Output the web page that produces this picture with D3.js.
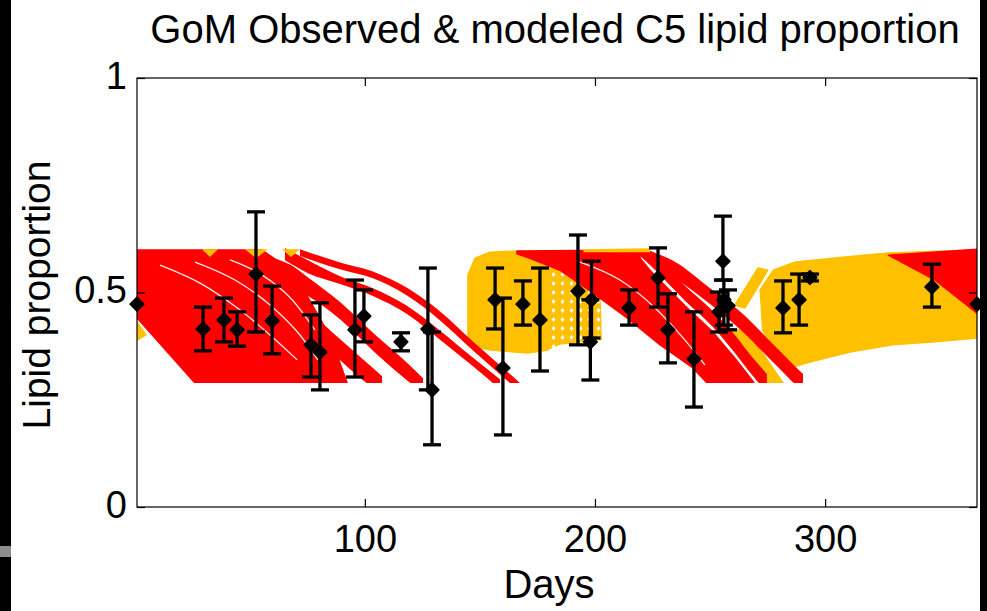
<!DOCTYPE html>
<html>
<head>
<meta charset="utf-8">
<script src="https://cdn.jsdelivr.net/npm/d3@7"></script>
<style>
  body { margin: 0; background: #fff; }
  svg text { font-family: "Liberation Sans", Arial, Helvetica, sans-serif; fill: #000; }
</style>
</head>
<body>
<div class="chartDiv"></div>
<script>
// observed C5 lipid proportion: day, mean and the two ends of each bar
var obsDay  = [1, 29.7, 38.8, 44.5, 52.7, 59.7, 76.6, 80.5, 95.7, 99.6, 115.7, 127.4, 129.2, 156.6, 160.0, 168.7, 176.1, 192.6, 198.5, 198.0, 214.8, 227.4, 231.7, 243.0, 255.6, 253.9, 256.0, 257.8, 281.7, 288.7, 293.4, 346.4, 366];
var obsMean = [0.473, 0.415, 0.436, 0.413, 0.543, 0.434, 0.378, 0.361, 0.413, 0.445, 0.385, 0.415, 0.273, 0.483, 0.324, 0.473, 0.436, 0.503, 0.483, 0.385, 0.464, 0.534, 0.413, 0.345, 0.573, 0.455, 0.483, 0.469, 0.464, 0.483, 0.535, 0.513, 0.473];
var obsLow  = [null, 0.364, 0.385, 0.375, 0.408, 0.357, 0.303, 0.273, 0.303, 0.385, 0.364, 0.273, 0.145, 0.415, 0.168, 0.424, 0.317, 0.378, 0.394, 0.296, 0.424, 0.466, 0.336, 0.233, 0.529, 0.408, 0.424, 0.413, 0.406, 0.424, 0.527, 0.466, null];
var obsHigh = [null, 0.466, 0.487, 0.455, 0.688, 0.515, 0.448, 0.476, 0.529, 0.506, 0.406, 0.557, 0.408, 0.557, 0.487, 0.527, 0.557, 0.634, 0.573, 0.483, 0.506, 0.604, 0.497, 0.455, 0.678, 0.501, 0.529, 0.506, 0.527, 0.543, 0.543, 0.566, null];

// modeled clouds, outlines as [day, lipid]
var yellowPatches = [
  [[1, 0.431], [4.9, 0.401], [1, 0.389]],
  [[144.8, 0.378], [144.8, 0.541], [147.9, 0.580], [154.4, 0.594], [167.4, 0.597], [179.6, 0.580], [179.6, 0.366], [170.9, 0.359], [154.4, 0.366]],
  [[260.8, 0.471], [270.8, 0.557], [275.1, 0.552], [265.2, 0.464]],
  [[257.8, 0.417], [266.5, 0.408], [281.7, 0.289], [273.8, 0.289]],
  [[271.8, 0.506], [277.5, 0.552], [287.1, 0.571], [308.8, 0.583], [327.5, 0.592], [366, 0.599], [366, 0.394], [347.8, 0.385], [329.3, 0.378], [310.8, 0.361], [293.4, 0.338], [284.7, 0.324], [278.2, 0.354], [272.9, 0.413]]
];
// sparse part of the yellow cloud (drawn with a dotted fill)
var yellowSparse = [[179.6, 0.580], [202.2, 0.541], [203.0, 0.389], [184.8, 0.378], [179.6, 0.366]];
var yellowTopBits = [
  [[29.2, 0.601], [36.2, 0.601], [32.7, 0.583]],
  [[47.9, 0.601], [57.9, 0.601], [52.7, 0.580]],
  [[64.0, 0.601], [71.8, 0.601], [67.9, 0.583]],
  [[195.0, 0.601], [223.9, 0.603], [223.9, 0.594], [195.0, 0.594]]
];
var redPatches = [
  [[1, 0.599], [55.3, 0.599], [65.3, 0.562], [74.0, 0.501], [81.4, 0.431], [87.5, 0.361], [92.3, 0.289], [26.2, 0.289], [1, 0.441]],
  [[166.1, 0.597], [219.6, 0.599], [219.6, 0.580], [223.9, 0.552], [239.1, 0.469], [250.8, 0.410], [260.8, 0.347], [268.2, 0.296], [269.1, 0.289], [248.7, 0.289], [242.6, 0.324], [228.3, 0.378], [213.9, 0.441], [199.1, 0.499], [184.8, 0.552], [171.7, 0.580], [166.1, 0.590]],
  [[327.5, 0.587], [366, 0.601], [366, 0.452], [347.8, 0.529]]
];
// single trajectories: [day, upper lipid, lower lipid]
var redTracks = [
  [[10.6, 0.599, 0.585], [27.9, 0.585, 0.552], [42.3, 0.566, 0.530], [57.0, 0.532, 0.490], [71.4, 0.477, 0.432], [85.7, 0.408, 0.360], [100.5, 0.338, 0.290], [107.5, 0.305, 0.265]],
  [[28.8, 0.599, 0.585], [46.2, 0.590, 0.556], [60.5, 0.580, 0.530], [67.5, 0.565, 0.515], [75.3, 0.535, 0.492], [89.6, 0.476, 0.436], [104.0, 0.404, 0.362], [118.8, 0.334, 0.293], [125.3, 0.300, 0.265]],
  [[65.3, 0.604, 0.575], [75.3, 0.575, 0.545], [89.2, 0.538, 0.520], [103.5, 0.510, 0.492], [118.3, 0.469, 0.450], [132.7, 0.411, 0.390], [147.0, 0.348, 0.328], [158.7, 0.298, 0.275]],
  [[71.8, 0.601, 0.585], [89.2, 0.570, 0.554], [103.5, 0.549, 0.533], [118.3, 0.511, 0.493], [132.7, 0.456, 0.435], [147.0, 0.386, 0.365], [161.8, 0.316, 0.295], [167.4, 0.289, 0.268]],
  [[219.6, 0.601, 0.585], [223.9, 0.597, 0.564], [239.1, 0.516, 0.481], [250.8, 0.459, 0.422], [260.8, 0.401, 0.359], [268.2, 0.350, 0.308], [274.7, 0.310, 0.268]],
  [[221.7, 0.601, 0.580], [235.6, 0.569, 0.531], [250.0, 0.510, 0.473], [264.3, 0.450, 0.408], [276.0, 0.387, 0.345], [284.7, 0.340, 0.298], [290.4, 0.310, 0.268]]
];
// thin white gaps between runs
var gapLines = [
  [[11.0, 0.564], [28.4, 0.522], [45.8, 0.459], [58.8, 0.401], [70.6, 0.343]],
  [[26.2, 0.571], [43.6, 0.529], [58.8, 0.471], [71.8, 0.401], [79.6, 0.343]],
  [[41.4, 0.576], [55.3, 0.541], [68.4, 0.483], [78.3, 0.413]],
  [[193.5, 0.571], [210.9, 0.529], [226.1, 0.464], [239.1, 0.389], [247.8, 0.331]]
];

var xTicks = [100, 200, 300];
var yTicks = [0, 0.5, 1];

var titleText = "GoM Observed & modeled C5 lipid proportion";
var xLabel = "Days";
var yLabel = "Lipid proportion";

(function(){
  var width = 987, height = 611;
  var plot = {left: 137, right: 977, top: 78, bottom: 507};
  var red = "#ff0000", yellow = "#ffc000";

  var svg = d3.select(".chartDiv").append("svg")
      .attr("width", width).attr("height", height);

  svg.append("rect").attr("width", width).attr("height", height).attr("fill", "#fff");
  // dark edges of the screen grab
  svg.append("rect").attr("x", 0).attr("y", 0).attr("width", 11).attr("height", height).attr("fill", "#000");
  svg.append("rect").attr("x", 0).attr("y", 546).attr("width", 11).attr("height", 11).attr("fill", "#8c8c8c");
  svg.append("rect").attr("x", 980).attr("y", 0).attr("width", 7).attr("height", height).attr("fill", "#000");

  var x = d3.scaleLinear().domain([1, 366]).range([plot.left, plot.right]);
  var y = d3.scaleLinear().domain([0, 1]).range([plot.bottom, plot.top]);

  var defs = svg.append("defs");
  defs.append("clipPath").attr("id", "modelClip").append("rect")
      .attr("x", plot.left).attr("y", y(0.606))
      .attr("width", plot.right - plot.left).attr("height", y(0.289) - y(0.606));
  var pat = defs.append("pattern").attr("id", "sparse")
      .attr("width", 9).attr("height", 9).attr("patternUnits", "userSpaceOnUse");
  pat.append("rect").attr("width", 9).attr("height", 9).attr("fill", yellow);
  pat.append("path").attr("d", "M4.5,2L6.5,4.5L4.5,7L2.5,4.5Z").attr("fill", "#fff");

  var poly = d3.line().x(function(d){ return x(d[0]); }).y(function(d){ return y(d[1]); })
      .curve(d3.curveLinearClosed);
  var band = d3.area().x(function(d){ return x(d[0]); })
      .y0(function(d){ return y(d[2]); }).y1(function(d){ return y(d[1]); })
      .curve(d3.curveMonotoneX);
  var gap = d3.line().x(function(d){ return x(d[0]); }).y(function(d){ return y(d[1]); })
      .curve(d3.curveMonotoneX);

  var model = svg.append("g").attr("clip-path", "url(#modelClip)");

  model.selectAll(".yel").data(yellowPatches).enter().append("path")
      .attr("class", "yel").attr("d", poly)
      .attr("fill", yellow).attr("stroke", yellow).attr("stroke-width", 1.5).attr("stroke-linejoin", "round");
  model.append("path").datum(yellowSparse).attr("d", poly).attr("fill", "url(#sparse)");

  model.selectAll(".redp").data(redPatches).enter().append("path")
      .attr("class", "redp").attr("d", poly)
      .attr("fill", red).attr("stroke", red).attr("stroke-width", 1.5).attr("stroke-linejoin", "round");
  model.selectAll(".track").data(redTracks).enter().append("path")
      .attr("class", "track").attr("d", band).attr("fill", red);
  model.selectAll(".gap").data(gapLines).enter().append("path")
      .attr("class", "gap").attr("d", gap)
      .attr("fill", "none").attr("stroke", "#fff").attr("stroke-width", 1.3).attr("opacity", 0.9);
  model.selectAll(".ytop").data(yellowTopBits).enter().append("path")
      .attr("class", "ytop").attr("d", poly).attr("fill", yellow);

  // axes, ticks pointing in on all four sides
  var fmt = function(d){ return d === 0.5 ? "0.5" : d3.format("d")(d); };
  var xAxis = svg.append("g").attr("transform", "translate(0," + plot.bottom + ")")
      .call(d3.axisBottom(x).tickValues(xTicks).tickSize(-8).tickPadding(18));
  var yAxis = svg.append("g").attr("transform", "translate(" + plot.left + ",0)")
      .call(d3.axisLeft(y).tickValues(yTicks).tickFormat(fmt).tickSize(-8).tickPadding(10));
  var xTop = svg.append("g").attr("transform", "translate(0," + plot.top + ")")
      .call(d3.axisTop(x).tickValues(xTicks).tickSize(-8).tickFormat(""));
  var yRight = svg.append("g").attr("transform", "translate(" + plot.right + ",0)")
      .call(d3.axisRight(y).tickValues(yTicks).tickSize(-8).tickFormat(""));

  [xAxis, yAxis, xTop, yRight].forEach(function(a){
    a.select(".domain").remove();
    a.selectAll("line").attr("stroke", "#000").attr("stroke-width", 1.2);
    a.selectAll("text").attr("font-size", 38).attr("font-family", null).attr("fill", "#000");
  });
  yAxis.selectAll("text").attr("dy", "0.27em");

  svg.append("rect").attr("x", plot.left).attr("y", plot.top)
      .attr("width", plot.right - plot.left).attr("height", plot.bottom - plot.top)
      .attr("fill", "none").attr("stroke", "#000").attr("stroke-width", 1.2);

  // observations with error bars
  var obs = obsDay.map(function(d, i){
    return {day: d, mean: obsMean[i], low: obsLow[i], high: obsHigh[i]};
  });
  var bars = obs.filter(function(d){ return d.low !== null; });
  var eb = svg.append("g").attr("stroke", "#000").attr("stroke-width", 3.3);
  eb.selectAll(".stem").data(bars).enter().append("line")
      .attr("x1", function(d){ return x(d.day); }).attr("x2", function(d){ return x(d.day); })
      .attr("y1", function(d){ return y(d.low); }).attr("y2", function(d){ return y(d.high); });
  eb.selectAll(".capHi").data(bars).enter().append("line")
      .attr("x1", function(d){ return x(d.day) - 9; }).attr("x2", function(d){ return x(d.day) + 9; })
      .attr("y1", function(d){ return y(d.high); }).attr("y2", function(d){ return y(d.high); });
  eb.selectAll(".capLo").data(bars).enter().append("line")
      .attr("x1", function(d){ return x(d.day) - 9; }).attr("x2", function(d){ return x(d.day) + 9; })
      .attr("y1", function(d){ return y(d.low); }).attr("y2", function(d){ return y(d.low); });

  var diamond = d3.symbol().type(d3.symbolSquare).size(88);
  svg.append("g").selectAll("path").data(obs).enter().append("path")
      .attr("d", diamond)
      .attr("transform", function(d){ return "translate(" + x(d.day) + "," + y(d.mean) + ") rotate(45)"; })
      .attr("fill", "#000").attr("stroke", "#000").attr("stroke-width", 2).attr("stroke-linejoin", "round");

  // titles
  svg.append("text").attr("x", 555).attr("y", 43).attr("text-anchor", "middle")
      .attr("font-size", 40).text(titleText);
  svg.append("text").attr("x", 549).attr("y", 598).attr("text-anchor", "middle")
      .attr("font-size", 40).text(xLabel);
  svg.append("text").attr("transform", "translate(50,295) rotate(-90)").attr("text-anchor", "middle")
      .attr("font-size", 39).text(yLabel);
})();
</script>
</body>
</html>
